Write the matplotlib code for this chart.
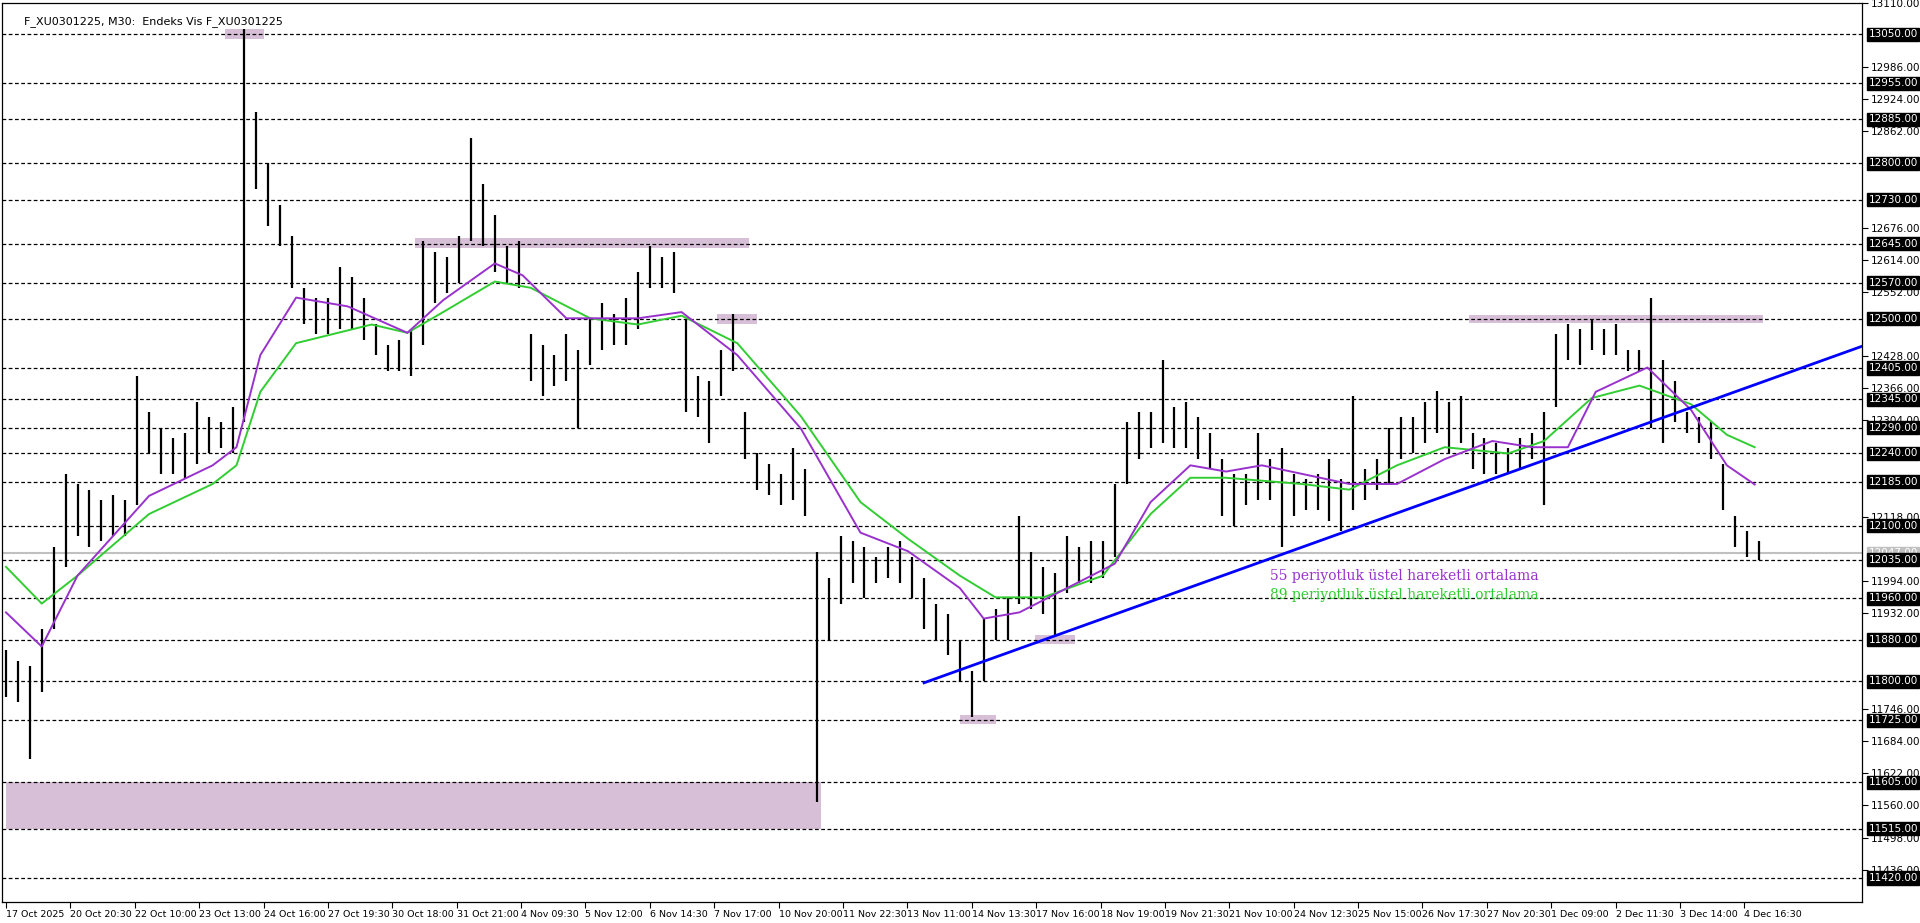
import numpy as np
import matplotlib
matplotlib.use("Agg")
import matplotlib.pyplot as plt
from matplotlib.patches import Rectangle

# ---- data ----
# one bar drawn every 3 half-hour bars
bar_high = [11860, 11840, 11830, 11900, 12060, 12200, 12180, 12170, 12150, 12160,
            12150, 12390, 12320, 12290, 12270, 12280, 12340, 12310, 12300, 12330,
            13060, 12900, 12800, 12720, 12660, 12560, 12540, 12540, 12600, 12580,
            12540, 12490, 12450, 12460, 12480, 12650, 12630, 12620, 12660, 12850,
            12760, 12700, 12640, 12650, 12470, 12450, 12430, 12470, 12440, 12500,
            12530, 12510, 12540, 12590, 12640, 12620, 12630, 12500, 12390, 12380,
            12440, 12510, 12320, 12240, 12220, 12200, 12250, 12210, 12050, 12000,
            12080, 12070, 12060, 12040, 12060, 12070, 12040, 12000, 11950, 11930,
            11880, 11820, 11920, 11940, 11960, 12120, 12050, 12020, 12010, 12080,
            12060, 12070, 12070, 12180, 12300, 12320, 12320, 12420, 12330, 12340,
            12310, 12280, 12230, 12200, 12200, 12280, 12230, 12250, 12200, 12190,
            12200, 12230, 12190, 12350, 12210, 12230, 12290, 12310, 12310, 12340,
            12360, 12340, 12350, 12280, 12270, 12260, 12250, 12270, 12280, 12320,
            12470, 12490, 12480, 12500, 12480, 12490, 12440, 12440, 12540, 12420,
            12380, 12320, 12310, 12300, 12220, 12120, 12090, 12070]
bar_low = [11770, 11760, 11650, 11780, 11900, 12020, 12080, 12060, 12070, 12080,
           12080, 12140, 12240, 12200, 12200, 12190, 12220, 12240, 12250, 12240,
           12300, 12750, 12680, 12640, 12560, 12490, 12470, 12470, 12480, 12480,
           12460, 12430, 12400, 12400, 12390, 12450, 12530, 12550, 12570, 12650,
           12640, 12590, 12570, 12560, 12380, 12350, 12370, 12380, 12290, 12410,
           12440, 12450, 12450, 12480, 12560, 12560, 12550, 12320, 12310, 12260,
           12350, 12400, 12230, 12170, 12160, 12140, 12150, 12120, 11567, 11880,
           11950, 11990, 11960, 11990, 12000, 11990, 11960, 11900, 11880, 11850,
           11800, 11730, 11800, 11880, 11880, 11950, 11940, 11930, 11890, 11970,
           11990, 11990, 12000, 12040, 12180, 12230, 12250, 12260, 12250, 12250,
           12230, 12210, 12120, 12100, 12140, 12150, 12150, 12060, 12120, 12130,
           12130, 12110, 12090, 12130, 12150, 12170, 12180, 12230, 12240, 12260,
           12280, 12240, 12260, 12210, 12200, 12200, 12200, 12210, 12230, 12140,
           12330, 12420, 12410, 12440, 12430, 12430, 12400, 12400, 12290, 12260,
           12300, 12280, 12260, 12230, 12130, 12060, 12040, 12035]
bar_step = 3

# moving averages, (bar index, price)
ema55_idx = [0, 9, 18, 36, 52, 58, 64, 73, 86, 101, 110, 123, 130, 141, 159, 170, 184,
             200, 215, 227, 240, 246, 255, 267, 279, 288, 298, 307, 316, 338, 350, 362,
             374, 384, 393, 400, 413, 424, 433, 440]
ema55_val = [11933, 11867, 12004, 12158, 12217, 12252, 12430, 12541, 12524, 12473, 12536,
             12607, 12584, 12501, 12501, 12513, 12430, 12288, 12087, 12051, 11980, 11921,
             11933, 11980, 12027, 12146, 12217, 12205, 12217, 12181, 12181, 12229, 12264,
             12252, 12252, 12359, 12406, 12324, 12217, 12180]
ema89_idx = [0, 9, 18, 36, 52, 58, 64, 73, 92, 101, 110, 123, 132, 147, 159, 170, 184,
             200, 215, 227, 240, 249, 261, 276, 288, 298, 307, 326, 338, 350, 362, 378,
             387, 399, 411, 424, 433, 440]
ema89_val = [12021, 11950, 12004, 12123, 12181, 12217, 12359, 12453, 12489, 12473, 12513,
             12572, 12560, 12501, 12489, 12506, 12453, 12312, 12146, 12075, 12004, 11962,
             11962, 12004, 12123, 12193, 12193, 12181, 12170, 12217, 12252, 12240, 12264,
             12347, 12371, 12335, 12276, 12252]

trend_idx = [231, 467]
trend_val = [11797, 12447]

levels = [13050, 12955, 12885, 12800, 12730, 12645, 12570, 12500, 12405, 12345, 12290,
          12240, 12185, 12100, 12035, 11960, 11880, 11800, 11725, 11605, 11515, 11420]
axis_ticks = [13110, 12986, 12924, 12862, 12676, 12614, 12552, 12428, 12366, 12304,
              12118, 11994, 11932, 11746, 11684, 11622, 11560, 11498, 11436]
last_price = 12047

# zones: (start idx, end idx, low price, high price)
zones = [(0, 205, 11515, 11605), (55, 65, 13040, 13060), (103, 187, 12637, 12657),
         (179, 189, 12490, 12510), (368, 442, 12492, 12508), (259, 269, 11872, 11890),
         (240, 249, 11717, 11735)]

date_labels = ["17 Oct 2025", "20 Oct 20:30", "22 Oct 10:00", "23 Oct 13:00", "24 Oct 16:00",
               "27 Oct 19:30", "30 Oct 18:00", "31 Oct 21:00", "4 Nov 09:30", "5 Nov 12:00",
               "6 Nov 14:30", "7 Nov 17:00", "10 Nov 20:00", "11 Nov 22:30", "13 Nov 11:00",
               "14 Nov 13:30", "17 Nov 16:00", "18 Nov 19:00", "19 Nov 21:30", "21 Nov 10:00",
               "24 Nov 12:30", "25 Nov 15:00", "26 Nov 17:30", "27 Nov 20:30", "1 Dec 09:00",
               "2 Dec 11:30", "3 Dec 14:00", "4 Dec 16:30"]
date_step = 16.2

# ---- figure ----
fig = plt.figure(figsize=(19.2, 9.23), dpi=100)
ax = fig.add_axes([2 / 1920, 1 - 902 / 923, 1860 / 1920, 899 / 923])
ax.set_xlim(-1, 467)
ax.set_ylim(11373.6, 13110)

for (x0, x1, lo, hi) in zones:
    ax.add_patch(Rectangle((x0, lo), x1 - x0, hi - lo, color="#d8bfd8", lw=0, zorder=1))

for lv in levels:
    ax.axhline(lv, color="black", lw=0.9, ls=(0, (3, 2)), zorder=2)
ax.axhline(last_price, color="#c0c0c0", lw=1.5, zorder=2)

xs = np.arange(len(bar_high)) * bar_step
ax.vlines(xs, bar_low, bar_high, color="black", lw=1.6, zorder=3)

ax.plot(ema89_idx, ema89_val, color="#32cd32", lw=1.4, zorder=4)
ax.plot(ema55_idx, ema55_val, color="#9932cc", lw=1.4, zorder=4)
ax.plot(trend_idx, trend_val, color="#0000ff", lw=2, zorder=5)

ax.text(318, 12004, "55 periyotluk üstel hareketli ortalama", color="#9932cc",
        family="DejaVu Serif", fontsize=10, va="center")
ax.text(318, 11966, "89 periyotluk üstel hareketli ortalama", color="#32cd32",
        family="DejaVu Serif", fontsize=10, va="center")
ax.text(0.012, 0.985, "F_XU0301225, M30:  Endeks Vis F_XU0301225", transform=ax.transAxes,
        fontsize=8, va="top", ha="left")

# right price axis
ax.yaxis.tick_right()
ax.set_yticks(axis_ticks)
ax.set_yticklabels([f"{t:.2f}" for t in axis_ticks], fontsize=7.5)
for lv in levels:
    ax.text(1.0035, lv, f"{lv:.2f}", transform=ax.get_yaxis_transform(), fontsize=7.5,
            color="white", va="center", ha="left",
            bbox=dict(boxstyle="square,pad=0.15", fc="black", ec="black"))
ax.text(1.0035, last_price, f"{last_price:.2f}", transform=ax.get_yaxis_transform(),
        fontsize=7.5, color="white", va="center", ha="left",
        bbox=dict(boxstyle="square,pad=0.15", fc="#c0c0c0", ec="#c0c0c0"), zorder=1)

ax.set_xticks([i * date_step for i in range(len(date_labels))])
ax.set_xticklabels(date_labels, fontsize=6.8, ha="left")
ax.tick_params(axis="both", length=4, width=0.8, pad=2)

for s in ax.spines.values():
    s.set_linewidth(0.9)

fig.savefig("out.png", dpi=100)
